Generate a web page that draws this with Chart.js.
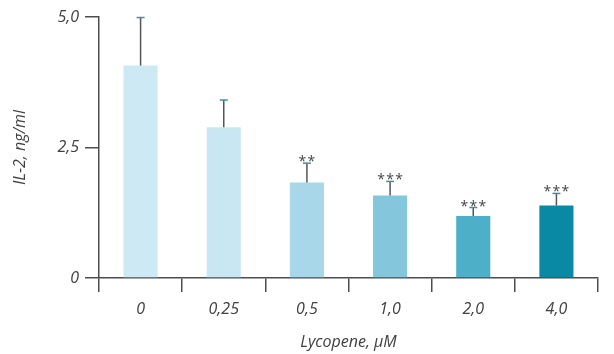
<!DOCTYPE html>
<html>
<head>
<meta charset="utf-8">
<script src="https://cdn.jsdelivr.net/npm/chart.js@4.4.1/dist/chart.umd.min.js"></script>
<style>
  html, body { margin: 0; padding: 0; background: #fff; }
  #wrap { width: 614px; height: 354px; }
</style>
</head>
<body>
<div id="wrap"><canvas id="chart" width="614" height="354"></canvas></div>
<script>
// ============================================================
// Data
// ============================================================
const categories = ["0", "0,25", "0,5", "1,0", "2,0", "4,0"];
const il2Means = [4.07, 2.89, 1.83, 1.58, 1.19, 1.39];
const il2Errors = [0.92, 0.52, 0.37, 0.27, 0.16, 0.23];
const significance = ["", "", "**", "***", "***", "***"];
const yTicks = [0, 2.5, 5];

// ============================================================
// Styles
// ============================================================
const barColors = ["#cce9f4", "#c8e7f3", "#a7d7e8", "#84c7dc", "#4eb0c8", "#0a89a5"];
const axisColor = "#4d4d4d";
const textColor = "#404040";
const FONT = "'Open Sans', 'DejaVu Sans', sans-serif";

const fmtComma = (v) => (v === 0 ? "0" : v.toFixed(1).replace(".", ","));

// ============================================================
// Error bars + significance stars
// ============================================================
const errorBarPlugin = {
  id: "errorBars",
  afterDatasetsDraw(chart) {
    const { ctx, scales } = chart;
    const meta = chart.getDatasetMeta(0);
    ctx.save();
    meta.data.forEach((bar, i) => {
      const x = bar.x;
      const yTop = scales.y.getPixelForValue(il2Means[i]);
      const yErr = scales.y.getPixelForValue(il2Means[i] + il2Errors[i]);

      ctx.strokeStyle = "#555";
      ctx.lineWidth = 1.5;
      ctx.beginPath();
      ctx.moveTo(x, yTop);
      ctx.lineTo(x, yErr);
      ctx.stroke();

      ctx.strokeStyle = "#3f8fa0";
      ctx.beginPath();
      ctx.moveTo(x - 4, yErr);
      ctx.lineTo(x + 4, yErr);
      ctx.stroke();

      const stars = significance[i];
      if (stars) {
        ctx.fillStyle = "#444";
        ctx.font = "14px " + FONT;
        ctx.textAlign = "center";
        ctx.textBaseline = "alphabetic";
        const gap = 9;
        const start = x - ((stars.length - 1) * gap) / 2;
        for (let k = 0; k < stars.length; k++) {
          ctx.fillText("*", start + k * gap, yErr + 3);
        }
      }
    });
    ctx.restore();
  },
};

// ============================================================
// Chart
// ============================================================
new Chart(document.getElementById("chart"), {
  type: "bar",
  data: {
    labels: categories,
    datasets: [{
      data: il2Means,
      backgroundColor: barColors,
      borderWidth: 0,
      categoryPercentage: 1,
      barPercentage: 0.41,
    }],
  },
  options: {
    responsive: false,
    animation: false,
    devicePixelRatio: 1,
    layout: { padding: { top: 17, right: 16, left: 0, bottom: 0 } },
    plugins: { legend: { display: false }, tooltip: { enabled: false } },
    scales: {
      x: {
        afterFit: (s) => { s.height = 76; },
        border: { display: true, color: axisColor, width: 1.5 },
        grid: {
          display: true,
          offset: true,
          drawOnChartArea: false,
          drawTicks: true,
          tickLength: 14,
          color: axisColor,
          lineWidth: 1.5,
        },
        ticks: {
          padding: 8,
          color: textColor,
          font: { family: FONT, size: 16, style: "italic" },
        },
        title: {
          display: true,
          text: "Lycopene, µM",
          color: textColor,
          font: { family: FONT, size: 16, style: "italic" },
          padding: { top: 0, bottom: 2 },
        },
      },
      y: {
        min: 0,
        max: 5,
        afterFit: (s) => { s.width = 99; },
        afterBuildTicks: (s) => { s.ticks = yTicks.map((v) => ({ value: v })); },
        border: { display: true, color: axisColor, width: 1.5 },
        grid: {
          display: true,
          drawOnChartArea: false,
          drawTicks: true,
          tickLength: 14,
          color: axisColor,
          lineWidth: 1.5,
        },
        ticks: {
          padding: 6,
          color: textColor,
          font: { family: FONT, size: 16, style: "italic" },
          callback: (v) => fmtComma(v),
        },
        title: {
          display: true,
          text: "IL-2, ng/ml",
          color: textColor,
          font: { family: FONT, size: 16, style: "italic" },
          padding: { top: 11, bottom: 0 },
        },
      },
    },
  },
  plugins: [errorBarPlugin],
});
</script>
</body>
</html>
